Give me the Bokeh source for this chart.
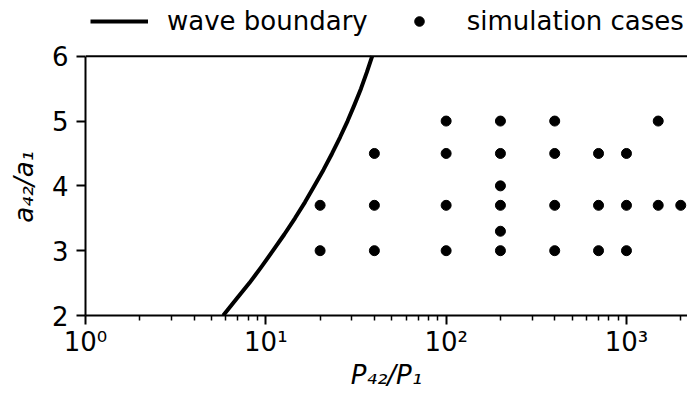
from bokeh.plotting import figure
from bokeh.models import (Range1d, FixedTicker, CustomJSTickFormatter, Legend,
                          LegendItem, Span, ColumnDataSource)
from bokeh.embed import file_html
from bokeh.resources import INLINE

# ---- data ----
boundary_a_ratio = [2.0, 2.25, 2.5, 2.75, 3.0, 3.25, 3.5, 3.75, 4.0,
                    4.25, 4.5, 4.75, 5.0, 5.25, 5.5, 5.75, 6.0]
boundary_p_ratio = [5.8, 6.85, 8.1, 9.45, 10.95, 12.65, 14.5, 16.5, 18.6,
                    20.9, 23.3, 25.8, 28.4, 31.0, 33.7, 36.3, 38.9]

case_p_ratio = [100, 200, 400, 1500,
                40, 100, 200, 400, 700, 1000,
                200,
                20, 40, 100, 200, 400, 700, 1000, 1500, 2000,
                200,
                20, 40, 100, 200, 400, 700, 1000]
case_a_ratio = [5.0, 5.0, 5.0, 5.0,
                4.5, 4.5, 4.5, 4.5, 4.5, 4.5,
                4.0,
                3.7, 3.7, 3.7, 3.7, 3.7, 3.7, 3.7, 3.7, 3.7,
                3.3,
                3.0, 3.0, 3.0, 3.0, 3.0, 3.0, 3.0]

x_major_ticks = [1, 10, 100, 1000]
x_minor_ticks = [m * d for d in (1, 10, 100, 1000) for m in range(2, 10)]
y_ticks = [2, 3, 4, 5, 6]
y_min, y_max = 2, 6

x_label = "P\u2084\u2082/P\u2081"
y_label = "a\u2084\u2082/a\u2081"
legend_labels = ["wave boundary", "simulation cases"]

FONT = "DejaVu Sans"
FS = "26px"

# the frame reaches up to the top of the canvas so the legend can sit above y = 6
p = figure(width=687, height=392, x_axis_type="log",
           x_range=Range1d(1, 2180), y_range=Range1d(y_min, 6.86),
           output_backend="svg", toolbar_location=None,
           min_border_left=85, min_border_right=0,
           min_border_top=0, min_border_bottom=60)
p.outline_line_color = None
p.xgrid.visible = False
p.ygrid.visible = False
p.background_fill_color = "white"
p.border_fill_color = "white"

line_src = ColumnDataSource(dict(x=boundary_p_ratio, y=boundary_a_ratio))
pt_src = ColumnDataSource(dict(x=case_p_ratio, y=case_a_ratio))
r_line = p.line("x", "y", source=line_src, line_color="black", line_width=4,
                line_join="round")
r_pts = p.scatter("x", "y", source=pt_src, size=10, fill_color="black", line_color="black")

# top spine
p.add_layout(Span(location=y_max, dimension="width", line_color="black", line_width=2))

p.xaxis.ticker = FixedTicker(ticks=x_major_ticks, minor_ticks=x_minor_ticks)
p.xaxis.formatter = CustomJSTickFormatter(code="""
const sup = ['\\u2070','\\u00b9','\\u00b2','\\u00b3','\\u2074','\\u2075'];
const e = Math.round(Math.log10(tick));
return '10' + sup[e];
""")
p.yaxis.ticker = FixedTicker(ticks=y_ticks)
p.yaxis.minor_tick_line_color = None
p.yaxis.bounds = (y_min, y_max)

for ax in (p.xaxis[0], p.yaxis[0]):
    ax.axis_line_width = 2
    ax.axis_line_color = "black"
    ax.major_tick_out = 9
    ax.major_tick_in = 0
    ax.minor_tick_out = 5
    ax.minor_tick_in = 0
    ax.major_tick_line_width = 2
    ax.minor_tick_line_width = 1.5
    ax.major_label_text_font = FONT
    ax.major_label_text_font_size = FS
    ax.major_label_text_color = "black"
    ax.axis_label_text_font = FONT
    ax.axis_label_text_font_size = FS
    ax.axis_label_text_font_style = "italic"
    ax.axis_label_text_color = "black"

p.xaxis.axis_label = x_label
# trailing no-break spaces centre the rotated label on the 2..6 span
p.yaxis.axis_label = y_label + "\u00a0" * 7
p.xaxis.major_label_standoff = 2
p.xaxis.axis_label_standoff = 0
p.yaxis.major_label_standoff = 8
p.yaxis.axis_label_standoff = 10

legend = Legend(items=[LegendItem(label=legend_labels[0], renderers=[r_line]),
                       LegendItem(label=legend_labels[1], renderers=[r_pts])],
                orientation="horizontal", location=(5, 279),
                glyph_width=58, glyph_height=24, label_standoff=19, spacing=22,
                padding=0, margin=0, border_line_color=None,
                background_fill_alpha=0,
                label_text_font=FONT, label_text_font_size=FS,
                label_text_color="black")
p.add_layout(legend)

with open("out.html", "w", encoding="utf-8") as f:
    f.write(file_html(p, INLINE))
